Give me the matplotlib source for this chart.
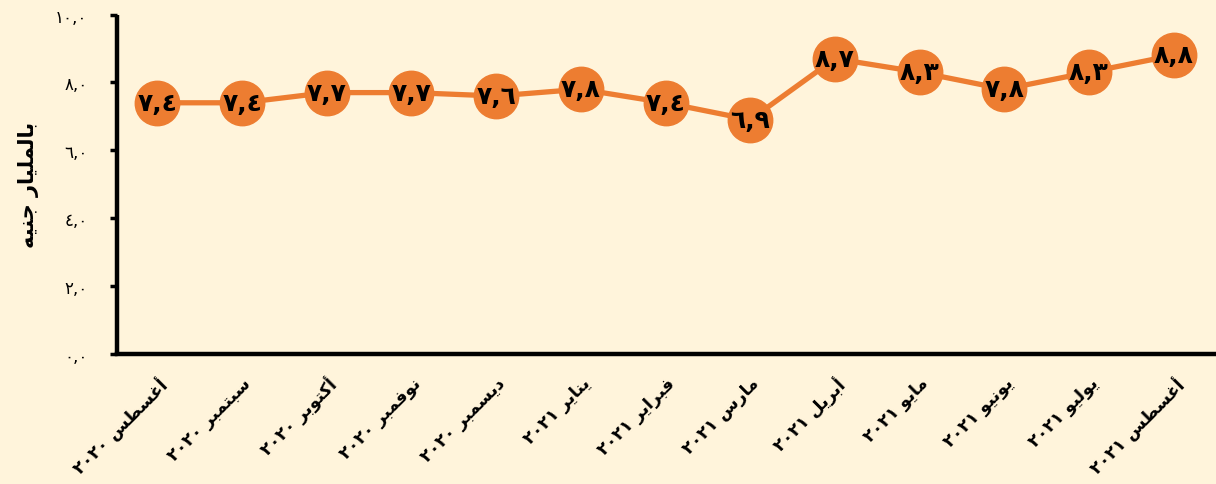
import matplotlib
matplotlib.use("Agg")
import matplotlib.pyplot as plt

months = ["أغسطس", "سبتمبر", "أكتوبر", "نوفمبر", "ديسمبر", "يناير", "فبراير",
          "مارس", "أبريل", "مايو", "يونيو", "يوليو", "أغسطس"]
years = ["2020"] * 5 + ["2021"] * 8
values = [7.4, 7.4, 7.7, 7.7, 7.6, 7.8, 7.4, 6.9, 8.7, 8.3, 7.8, 8.3, 8.8]
yticks = [0, 2, 4, 6, 8, 10]
ylabel = "بالمليار جنيه"

bg = "#FFF4DB"
orange = "#ED7D31"

# presentation forms: isolated, final, initial, medial (right-joining letters have 2)
FORMS = {
    "ا": (0xFE8D, 0xFE8E), "أ": (0xFE83, 0xFE84), "د": (0xFEA9, 0xFEAA),
    "ر": (0xFEAD, 0xFEAE), "و": (0xFEED, 0xFEEE), "ة": (0xFE93, 0xFE94),
    "ب": (0xFE8F, 0xFE90, 0xFE91, 0xFE92), "ت": (0xFE95, 0xFE96, 0xFE97, 0xFE98),
    "ج": (0xFE9D, 0xFE9E, 0xFE9F, 0xFEA0), "س": (0xFEB1, 0xFEB2, 0xFEB3, 0xFEB4),
    "ط": (0xFEC1, 0xFEC2, 0xFEC3, 0xFEC4), "غ": (0xFECD, 0xFECE, 0xFECF, 0xFED0),
    "ف": (0xFED1, 0xFED2, 0xFED3, 0xFED4), "ك": (0xFED9, 0xFEDA, 0xFEDB, 0xFEDC),
    "ل": (0xFEDD, 0xFEDE, 0xFEDF, 0xFEE0), "م": (0xFEE1, 0xFEE2, 0xFEE3, 0xFEE4),
    "ن": (0xFEE5, 0xFEE6, 0xFEE7, 0xFEE8), "ه": (0xFEE9, 0xFEEA, 0xFEEB, 0xFEEC),
    "ي": (0xFEF1, 0xFEF2, 0xFEF3, 0xFEF4),
}


def shape(text):
    out = []
    for i, c in enumerate(text):
        if c not in FORMS:
            out.append(c)
            continue
        prev = text[i - 1] if i > 0 else ""
        nxt = text[i + 1] if i + 1 < len(text) else ""
        jp = prev in FORMS and len(FORMS[prev]) == 4
        jn = len(FORMS[c]) == 4 and nxt in FORMS
        f = FORMS[c]
        if jp and jn:
            g = f[3]
        elif jp:
            g = f[1]
        elif jn:
            g = f[2]
        else:
            g = f[0]
        out.append(chr(g))
    return "".join(out[::-1])


def ar_num(s):
    return s.translate(str.maketrans("0123456789.", "٠١٢٣٤٥٦٧٨٩,"))


labels = [ar_num(y) + " " + shape(m) for m, y in zip(months, years)]
x = list(range(len(values)))

plt.rcParams["font.family"] = ["DejaVu Sans"]
fig = plt.figure(figsize=(12.16, 4.85), dpi=100, facecolor=bg)
ax = fig.add_axes([0.096, 0.268, 0.904, 0.70])
ax.set_facecolor(bg)

ax.plot(x, values, color=orange, lw=3.8, marker="o", ms=32,
        markerfacecolor=orange, markeredgecolor=orange, zorder=3)
for xi, v in zip(x, values):
    ax.text(xi, v, ar_num("%.1f" % v), ha="center", va="center",
            fontsize=18, fontweight="bold", color="black", zorder=4)

ax.set_ylim(0, 10)
ax.set_xlim(-0.48, 12.5)
ax.set_yticks(yticks)
ax.set_yticklabels([ar_num("%.1f" % t) for t in yticks], fontsize=12)
ax.set_xticks(x)
ax.set_xticklabels(labels, rotation=45, ha="right", rotation_mode="anchor",
                   fontsize=12.5, fontweight="bold")
ax.tick_params(axis="x", length=0, pad=14)
ax.tick_params(axis="y", length=5, width=2.5, direction="out", pad=16)

for s in ["top", "right"]:
    ax.spines[s].set_visible(False)
for s in ["left", "bottom"]:
    ax.spines[s].set_linewidth(3.2)
ax.spines["left"].set_capstyle("butt")

ax.set_ylabel(shape(ylabel), fontsize=15, fontweight="bold", labelpad=12)

fig.savefig("out.png", dpi=100, facecolor=bg)
